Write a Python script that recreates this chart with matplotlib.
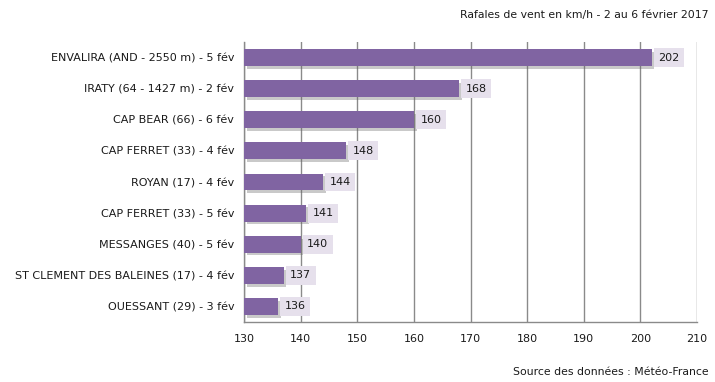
import matplotlib
matplotlib.use("Agg")
import matplotlib.pyplot as plt
import matplotlib.patheffects as pe

stations = ['ENVALIRA (AND - 2550 m) - 5 fév', 'IRATY (64 - 1427 m) - 2 fév',
            'CAP BEAR (66) - 6 fév', 'CAP FERRET (33) - 4 fév',
            'ROYAN (17) - 4 fév', 'CAP FERRET (33) - 5 fév',
            'MESSANGES (40) - 5 fév', 'ST CLEMENT DES BALEINES (17) - 4 fév',
            'OUESSANT (29) - 3 fév']
gusts = [202, 168, 160, 148, 144, 141, 140, 137, 136]
xticks = [130, 140, 150, 160, 170, 180, 190, 200, 210]

plt.rcParams['font.family'] = 'DejaVu Sans'
fig = plt.figure(figsize=(7.15, 3.82), dpi=100)
# axes box: x 244..697 px, y 42..322 px
ax = fig.add_axes([244 / 715, 1 - 322 / 382, 453 / 715, 280 / 382])

ypos = list(range(len(stations)))
bars = ax.barh(ypos, [g - 130 for g in gusts], left=130, height=0.54,
               color='#8064a2', zorder=3)
for b in bars:
    b.set_path_effects([pe.SimplePatchShadow(offset=(2, -2), shadow_rgbFace='#666666',
                                             alpha=0.35), pe.Normal()])

for y, g in zip(ypos, gusts):
    ax.text(g + 1.15, y, str(g), va='center', ha='left', fontsize=8,
            color='#1a1a1a', zorder=4,
            bbox=dict(boxstyle='square,pad=0.4', fc='#e6e0ec', ec='none'))

ax.set_xlim(130, 210)
ax.set_ylim(len(stations) - 0.5, -0.5)
ax.set_xticks(xticks)
ax.set_yticks(ypos)
ax.set_yticklabels(stations)
ax.tick_params(axis='both', length=0, labelsize=8, colors='#1a1a1a')
ax.tick_params(axis='x', pad=9)
ax.tick_params(axis='y', pad=7)
ax.grid(axis='x', color='#8a8a8a', linewidth=1, zorder=0)
for s in ['top', 'right']:
    ax.spines[s].set_visible(False)
for s in ['left', 'bottom']:
    ax.spines[s].set_color('#8a8a8a')
    ax.spines[s].set_linewidth(1)

fig.text(0.991, 0.975, 'Rafales de vent en km/h - 2 au 6 février 2017',
         ha='right', va='top', fontsize=7.8, color='#1a1a1a')
fig.text(0.991, 0.012, 'Source des données : Météo-France',
         ha='right', va='bottom', fontsize=7.8, color='#1a1a1a')

fig.savefig('out.png', dpi=100)
